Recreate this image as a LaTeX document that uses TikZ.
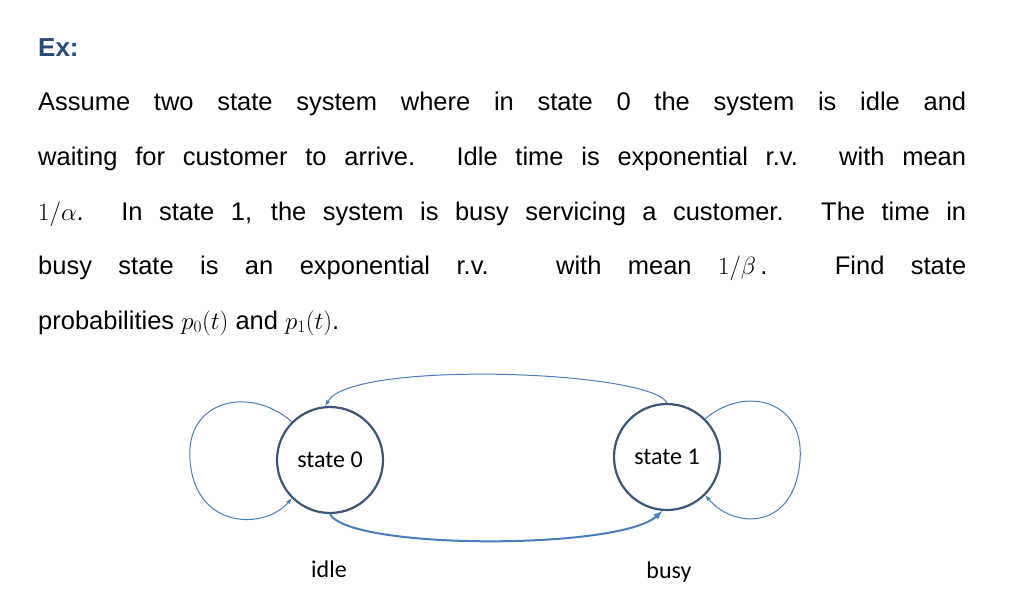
\documentclass[tikz,border=0pt]{standalone}
\usepackage{fontspec}
\setmainfont{Liberation Sans}
\newfontfamily\carlitofont{Carlito}
\definecolor{exblue}{HTML}{2B4C78}
\definecolor{arcblue}{HTML}{4A7EBB}
\definecolor{circ}{HTML}{3B5677}
\begin{document}
\begin{tikzpicture}[x=1pt,y=-1pt,
  txt/.style={anchor=base west,inner sep=0pt,font=\fontsize{25.5}{30}\selectfont},
  st/.style={circle,draw=circ,line width=2.2pt,minimum size=106pt,inner sep=0pt,font=\carlitofont\fontsize{24}{28}\selectfont},
  lbl/.style={font=\carlitofont\fontsize{24}{28}\selectfont},
  arc/.style={draw=arcblue,line width=1pt,-latex}]
\useasboundingbox (0,0) rectangle (1009,598);
\node[txt,font=\bfseries\fontsize{26}{30}\selectfont,text=exblue] (ex) at (38,56) {Ex:};
\node[txt] (l1) at (38,110) {\makebox[928pt][s]{Assume two state system where in state 0 the system is idle and}};
\node[txt] (l2) at (38,165) {\makebox[928pt][s]{waiting for customer to arrive. Idle time is exponential r.v. with mean}};
\node[txt] (l3) at (38,220) {\makebox[928pt][s]{$1/\alpha$. In state 1, the system is busy servicing a customer. The time in}};
\node[txt] (l4) at (38,274) {\makebox[928pt][s]{busy state is an exponential r.v. with mean $1/\beta$\,. Find state}};
\node[txt] (l5) at (38,329) {probabilities $p_0(t)$ and $p_1(t)$.};
\node[st] (s0) at (330,460) {state 0};
\node[st] (s1) at (667,457) {state 1};
\node[lbl] (idle) at (329,569) {idle};
\node[lbl] (busy) at (669,572) {busy};
\draw[arc] (s0.135) .. controls (250,385) and (185,400) .. (190,460) .. controls (195,530) and (265,530) .. (s0.225);
\draw[arc] (s1.45) .. controls (745,385) and (805,400) .. (800,460) .. controls (795,530) and (735,530) .. (s1.315);
\draw[arc] (s1.90) .. controls (650,370) and (350,360) .. (s0.95);
\draw[arc,line width=2pt] (s0.270) .. controls (350,550) and (620,550) .. (s1.265);
\end{tikzpicture}
\end{document}
